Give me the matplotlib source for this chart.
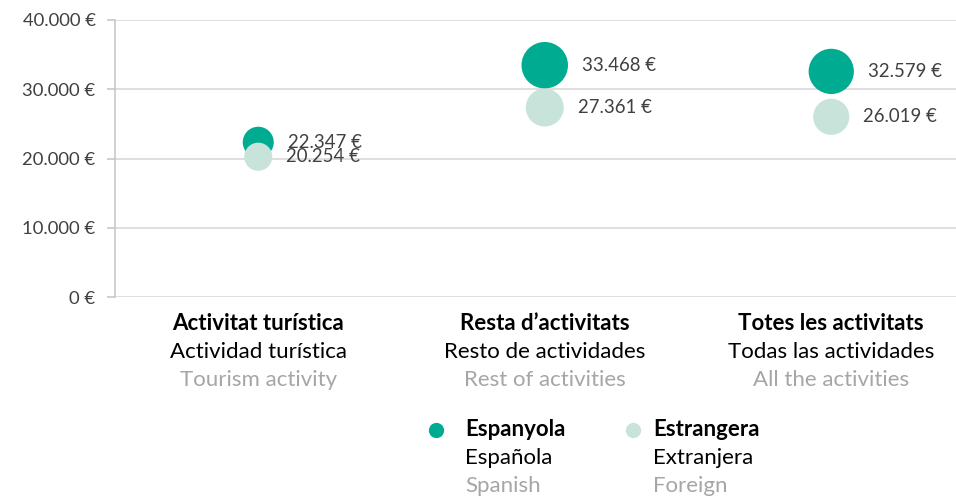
import matplotlib.pyplot as plt
from matplotlib.lines import Line2D
from matplotlib.ticker import FuncFormatter

categories_ca = ["Activitat turística", "Resta d\u2019activitats", "Totes les activitats"]
categories_es = ["Actividad turística", "Resto de actividades", "Todas las actividades"]
categories_en = ["Tourism activity", "Rest of activities", "All the activities"]

espanyola = [22347, 33468, 32579]
estrangera = [20254, 27361, 26019]

series_names = [("Espanyola", "Española", "Spanish"),
                ("Estrangera", "Extranjera", "Foreign")]
colors = ["#00ac91", "#c8e4da"]

plt.rcParams['font.family'] = ['Lato', 'DejaVu Sans']

W, H = 956, 497
fig = plt.figure(figsize=(W / 100, H / 100), dpi=100)
ax = fig.add_axes([115 / W, 1 - 297 / H, 1 - 115 / W, 277 / H])

def fmt(v):
    return f"{v:,.0f}".replace(",", ".") + " \u20ac"

x = list(range(len(categories_ca)))
for vals, col in zip([espanyola, estrangera], colors):
    sizes = [(v / 1000) ** 2 for v in vals]
    ax.scatter(x, vals, s=sizes, color=col, zorder=3, linewidths=0)
    for xi, v, s in zip(x, vals, sizes):
        r = s ** 0.5 / 2
        ax.annotate(fmt(v), (xi, v), xytext=(r + 10, 0), textcoords="offset points",
                    va="center", ha="left", fontsize=13.4, color="#404040")

ax.set_ylim(0, 40000)
ax.set_xlim(-0.5, -0.5 + (W - 115) / 286.5)
ax.set_yticks(range(0, 40001, 10000))
ax.yaxis.set_major_formatter(FuncFormatter(lambda v, p: fmt(v)))
ax.set_xticks([])
ax.grid(axis="y", color="#d9d9d9", linewidth=1.2, zorder=0)
for s in ["top", "right", "bottom"]:
    ax.spines[s].set_visible(False)
ax.spines["left"].set_color("#c8c8c8")
ax.spines["left"].set_linewidth(1.2)
ax.tick_params(axis="y", length=6, color="#c8c8c8", width=1.2,
               labelsize=13.3, labelcolor="#404040", pad=8)
ax.set_axisbelow(True)

trans = ax.get_xaxis_transform()
for xi, ca, es, en in zip(x, categories_ca, categories_es, categories_en):
    ax.text(xi, -26 / 277, ca, transform=trans, ha="center", va="center",
            fontsize=16, fontweight="bold", color="black")
    ax.text(xi, -55 / 277, es, transform=trans, ha="center", va="center",
            fontsize=16, color="black")
    ax.text(xi, -83 / 277, en, transform=trans, ha="center", va="center",
            fontsize=16, color="#a6a6a6")

legend_x = [(436, 465), (633, 653)]
for (mx, tx), (ca, es, en), col in zip(legend_x, series_names, colors):
    fig.add_artist(Line2D([mx / W], [1 - 430 / H], marker="o", markersize=11,
                          color=col, markeredgewidth=0, transform=fig.transFigure))
    fig.text(tx / W, 1 - 430 / H, ca, ha="left", va="center", fontsize=16,
             fontweight="bold", color="black")
    fig.text(tx / W, 1 - 458 / H, es, ha="left", va="center", fontsize=16, color="black")
    fig.text(tx / W, 1 - 486 / H, en, ha="left", va="center", fontsize=16, color="#a6a6a6")

fig.savefig("out.png", dpi=100)
